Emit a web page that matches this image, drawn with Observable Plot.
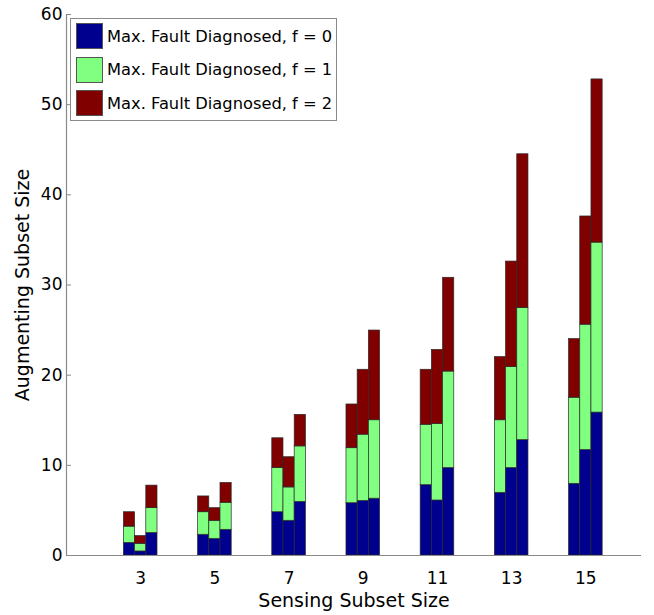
<!DOCTYPE html>
<html>
<head>
<meta charset="utf-8">
<script src="https://cdn.jsdelivr.net/npm/d3@7"></script>
<script src="https://cdn.jsdelivr.net/npm/@observablehq/plot@0.6"></script>
<style>
  html, body { margin: 0; padding: 0; background: #fff; }
  #chart { position: relative; width: 654px; height: 615px; font-family: "DejaVu Sans", sans-serif; }
  #legend { position: absolute; left: 70px; top: 18px; width: 267px; height: 103px;
            border: 1px solid #8a8a8a; background: #fff; box-sizing: border-box; }
  .row { position: absolute; left: 5px; height: 26px; display: flex; align-items: center; }
  .sw { width: 27px; height: 26px; box-sizing: border-box; border: 1px solid #555; margin-right: 4px; }
  .lbl { font-size: 16.3px; color: #000; white-space: nowrap; }
</style>
</head>
<body>
<div id="chart"></div>
<script>
// Sensing subset sizes (one group of three bars per size)
const sensingSizes = [3, 5, 7, 9, 11, 13, 15];

// Stacked segment heights, three bars per group
const faultF0 = [[1.4, 0.45, 2.5], [2.3, 1.85, 2.85], [4.8, 3.85, 5.95], [5.8, 6.05, 6.3],
                 [7.8, 6.1, 9.7], [6.95, 9.7, 12.8], [7.95, 11.7, 15.85]];
const faultF1 = [[1.8, 0.85, 2.75], [2.5, 2.0, 3.0], [4.9, 3.7, 6.15], [6.1, 7.35, 8.7],
                 [6.7, 8.5, 10.7], [8.05, 11.2, 14.65], [9.55, 13.9, 18.85]];
const faultF2 = [[1.6, 0.85, 2.5], [1.75, 1.4, 2.2], [3.3, 3.35, 3.5], [4.85, 7.2, 9.95],
                 [6.1, 8.2, 10.4], [7.0, 11.7, 17.05], [6.5, 12.0, 18.1]];

const seriesNames = ["Max. Fault Diagnosed, f = 0", "Max. Fault Diagnosed, f = 1", "Max. Fault Diagnosed, f = 2"];
const seriesColors = ["#00008f", "#80ff80", "#800000"];
const yTicks = [0, 10, 20, 30, 40, 50, 60];

// Build stacked rectangles: each bar sits beside its neighbours inside the group
const barWidth = 0.302;
const series = [faultF0, faultF1, faultF2];
const rects = [];
sensingSizes.forEach((s, gi) => {
  for (let k = 0; k < 3; k++) {
    let base = 0;
    series.forEach((vals, si) => {
      const v = vals[gi][k];
      rects.push({
        size: s, bar: k, series: seriesNames[si],
        x1: s + (k - 1.5) * barWidth, x2: s + (k - 0.5) * barWidth,
        y1: base, y2: base + v
      });
      base += v;
    });
  }
});

const xDomain = [1, 16.5];
const font = "DejaVu Sans, sans-serif";

const plot = Plot.plot({
  width: 654,
  height: 615,
  marginLeft: 66,
  marginRight: 13,
  marginTop: 14,
  marginBottom: 60,
  style: { fontFamily: font, background: "#fff", overflow: "visible" },
  x: { type: "linear", domain: xDomain },
  y: { domain: [0, 60] },
  color: { domain: seriesNames, range: seriesColors },
  marks: [
    Plot.rect(rects, { x1: "x1", x2: "x2", y1: "y1", y2: "y2", fill: "series",
                       stroke: "#2a2a2a", strokeWidth: 0.7 }),
    Plot.axisY(yTicks, { tickSize: -5, tickPadding: 9, stroke: "#888", fontSize: 17,
                         fill: "#000", label: null }),
    Plot.axisX(sensingSizes, { tickSize: 0, tickPadding: 16, fontSize: 17, fill: "#000",
                               tickFormat: d => String(d), label: null }),
    Plot.ruleY([0], { stroke: "#8a8a8a", strokeWidth: 1.2 }),
    Plot.ruleX([xDomain[0]], { stroke: "#8a8a8a", strokeWidth: 1.2 }),
    Plot.text(["Augmenting Subset Size"], { frameAnchor: "left", textAnchor: "middle",
                                           rotate: -90, dx: -44, fontSize: 19, fill: "#000" }),
    Plot.text(["Sensing Subset Size"], { frameAnchor: "bottom", textAnchor: "middle",
                                        dy: 51, fontSize: 19, fill: "#000" })
  ]
});

const chart = document.getElementById("chart");
chart.appendChild(plot);

// Legend box in the upper-left corner of the plot area
const legend = document.createElement("div");
legend.id = "legend";
seriesNames.forEach((name, i) => {
  const row = document.createElement("div");
  row.className = "row";
  row.style.top = (4 + i * 33.5) + "px";
  const sw = document.createElement("div");
  sw.className = "sw";
  sw.style.background = seriesColors[i];
  const lbl = document.createElement("span");
  lbl.className = "lbl";
  lbl.textContent = name;
  row.appendChild(sw);
  row.appendChild(lbl);
  legend.appendChild(row);
});
chart.appendChild(legend);
</script>
</body>
</html>
